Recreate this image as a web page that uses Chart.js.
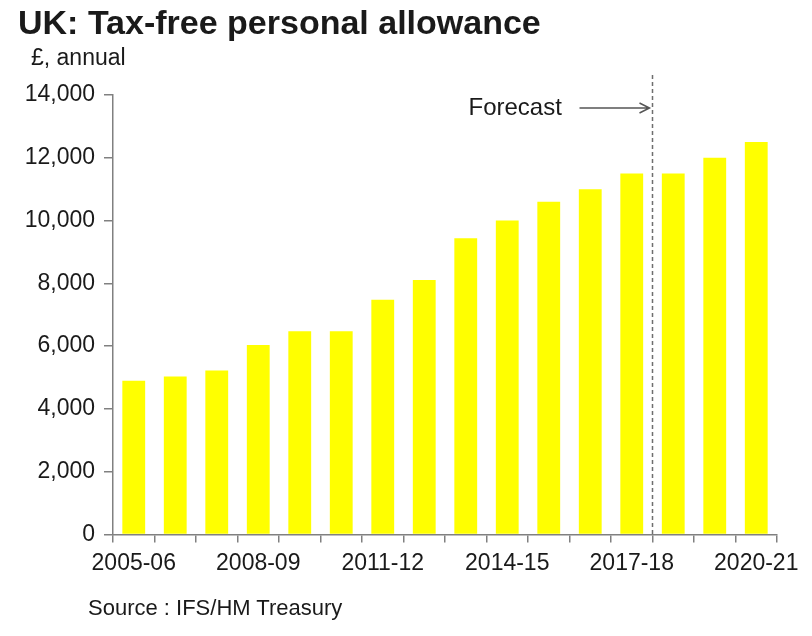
<!DOCTYPE html>
<html>
<head>
<meta charset="utf-8">
<script src="https://cdn.jsdelivr.net/npm/chart.js@4"></script>
<style>
  html, body { margin: 0; padding: 0; background: #fff; }
  #wrap { position: relative; width: 812px; height: 636px; font-family: "Liberation Sans", Arial, sans-serif; color: #1a1a1a; }
  #title { position: absolute; left: 18px; top: 3px; font-size: 34px; font-weight: bold; white-space: nowrap; }
  #unit { position: absolute; left: 31px; top: 44px; font-size: 23px; white-space: nowrap; }
  #source { position: absolute; left: 88px; top: 595px; font-size: 22px; white-space: nowrap; }
  canvas { position: absolute; left: 0; top: 0; }
</style>
</head>
<body>
<div id="wrap">
  <canvas id="chart" width="812" height="636"></canvas>
  <div id="title">UK: Tax-free personal allowance</div>
  <div id="unit">£, annual</div>
  <div id="source">Source : IFS/HM Treasury</div>
</div>
<script>
// fiscal years, 2005-06 .. 2020-21
const years = ['2005-06', '2006-07', '2007-08', '2008-09', '2009-10', '2010-11', '2011-12', '2012-13',
  '2013-14', '2014-15', '2015-16', '2016-17', '2017-18', '2018-19', '2019-20', '2020-21'];
// personal allowance, £ per year
const allowance = [4895, 5035, 5225, 6035, 6475, 6475, 7475, 8105, 9440, 10000, 10600, 11000, 11500, 11500, 12000, 12500];
const yTicks = [0, 2000, 4000, 6000, 8000, 10000, 12000, 14000];
const forecastFrom = '2018-19';
const forecastLabel = 'Forecast';

const axisGrey = '#808080';
const font = { family: '"Liberation Sans", Arial, sans-serif', size: 23 };

/* forecast divider + arrow, placed from the x scale */
const forecastPlugin = {
  id: 'forecast',
  afterDatasetsDraw(chart) {
    const ctx = chart.ctx;
    const x = chart.scales.x;
    const area = chart.chartArea;
    const i = years.indexOf(forecastFrom);
    const lineX = (x.getPixelForValue(i - 1) + x.getPixelForValue(i)) / 2;
    ctx.save();
    ctx.strokeStyle = '#6e6e6e';
    ctx.lineWidth = 1.5;
    ctx.setLineDash([4, 3]);
    ctx.beginPath();
    ctx.moveTo(lineX, area.top - 20);
    ctx.lineTo(lineX, area.bottom);
    ctx.stroke();
    ctx.setLineDash([]);

    const textY = area.top + 13;
    ctx.fillStyle = '#1a1a1a';
    ctx.font = '24px ' + font.family;
    ctx.textBaseline = 'middle';
    ctx.textAlign = 'left';
    ctx.fillText(forecastLabel, lineX - 184, textY);

    // arrow
    ctx.strokeStyle = '#555';
    ctx.lineWidth = 1.5;
    ctx.beginPath();
    ctx.moveTo(lineX - 73, textY);
    ctx.lineTo(lineX - 3, textY);
    ctx.moveTo(lineX - 13, textY - 5);
    ctx.lineTo(lineX - 3, textY);
    ctx.lineTo(lineX - 13, textY + 5);
    ctx.stroke();
    ctx.restore();
  }
};

new Chart(document.getElementById('chart'), {
  type: 'bar',
  data: {
    labels: years,
    datasets: [{
      data: allowance,
      backgroundColor: '#ffff00',
      barPercentage: 0.55,
      categoryPercentage: 1.0
    }]
  },
  options: {
    responsive: false,
    animation: false,
    layout: { padding: { left: 0, right: 35, top: 95, bottom: 0 } },
    plugins: { legend: { display: false }, tooltip: { enabled: false } },
    scales: {
      x: {
        offset: true,
        grid: { offset: true, drawOnChartArea: false, drawTicks: true, tickLength: 8, color: axisGrey, lineWidth: 1.5 },
        border: { display: true, color: axisGrey, width: 1.5 },
        ticks: {
          autoSkip: false, maxRotation: 0, padding: 7, color: '#1a1a1a', font: font,
          callback: (v, i) => (i % 3 === 0 ? years[i] : '')
        },
        afterFit(axis) { axis.height = 101.5; }
      },
      y: {
        min: 0,
        max: 14000,
        afterBuildTicks(axis) { axis.ticks = yTicks.map(v => ({ value: v })); },
        grid: { drawOnChartArea: false, drawTicks: true, tickLength: 9, color: axisGrey, lineWidth: 1.5 },
        border: { display: true, color: axisGrey, width: 1.5 },
        ticks: {
          padding: 9, color: '#1a1a1a', font: font,
          callback: v => v.toLocaleString('en-GB')
        },
        afterFit(axis) { axis.width = 113; }
      }
    }
  },
  plugins: [forecastPlugin]
});
</script>
</body>
</html>
